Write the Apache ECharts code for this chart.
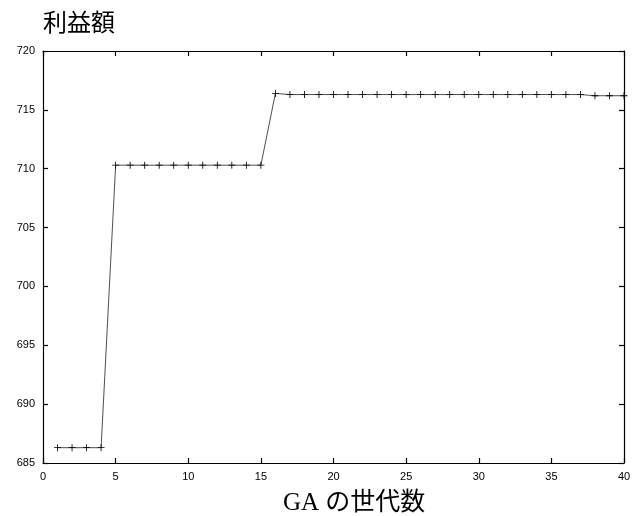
<!DOCTYPE html>
<html>
<head>
<meta charset="utf-8">
<script src="https://cdn.jsdelivr.net/npm/echarts@6/dist/echarts.min.js"></script>
<style>
html, body { margin: 0; padding: 0; background: #fff; }
#plot { width: 640px; height: 516px; }
</style>
</head>
<body>
<div id="plot"></div>
<script>
// generations 1..40 and best profit per generation
var generations = [];
for (var g = 1; g <= 40; g++) generations.push(g);
var profits = [
	686.3, 686.3, 686.3, 686.3,
	710.3, 710.3, 710.3, 710.3, 710.3, 710.3, 710.3, 710.3, 710.3, 710.3, 710.3,
	716.4, 716.3, 716.3, 716.3, 716.3, 716.3, 716.3, 716.3, 716.3, 716.3,
	716.3, 716.3, 716.3, 716.3, 716.3, 716.3, 716.3, 716.3, 716.3, 716.3,
	716.3, 716.3, 716.2, 716.2, 716.2
];
var yTitle = '利益額';
var xTitle = 'GA の世代数';

var data = [];
for (var i = 0; i < generations.length; i++) {
	data.push([generations[i], profits[i]]);
}

var plus = 'path://M4.4,0H5.6V4.4H10V5.6H5.6V10H4.4V5.6H0V4.4H4.4Z';
var labelStyle = { color: '#000', fontSize: 11, fontFamily: 'Liberation Sans, Arial, sans-serif' };
var lineStyle = { color: '#000', width: 1.2 };

function makeAxis (min, max, pos, labels) {
	return {
		type: 'value', min: min, max: max, interval: 5, position: pos,
		axisLine: { show: true, onZero: false, lineStyle: lineStyle },
		axisTick: { show: true, inside: true, length: 5, lineStyle: lineStyle },
		axisLabel: labels ? labelStyle : { show: false },
		splitLine: { show: false }
	};
}

var option = {
	animation: false,
	backgroundColor: '#fff',
	grid: { left: 43, right: 16, top: 51, bottom: 53 },
	graphic: [
		{ type: 'text', left: 43, top: 10,
			style: { text: yTitle, fontSize: 24, fill: '#000', fontFamily: 'Noto Sans CJK JP' } },
		{ type: 'text', left: 283, top: 491,
			style: { text: xTitle, fontSize: 25, fill: '#000', fontFamily: 'Liberation Serif, Noto Sans CJK JP' } }
	],
	xAxis: [
		makeAxis(0, 40, 'bottom', true),
		makeAxis(0, 40, 'top', false)
	],
	yAxis: [
		makeAxis(685, 720, 'left', true),
		makeAxis(685, 720, 'right', false)
	],
	series: [
		{
			type: 'line',
			data: data,
			symbol: plus,
			symbolSize: 7,
			showAllSymbol: true,
			itemStyle: { color: '#000' },
			lineStyle: { color: '#222', width: 0.8 }
		}
	]
};

var myChart = echarts.init(document.getElementById('plot'));
myChart.setOption(option);
</script>
</body>
</html>
